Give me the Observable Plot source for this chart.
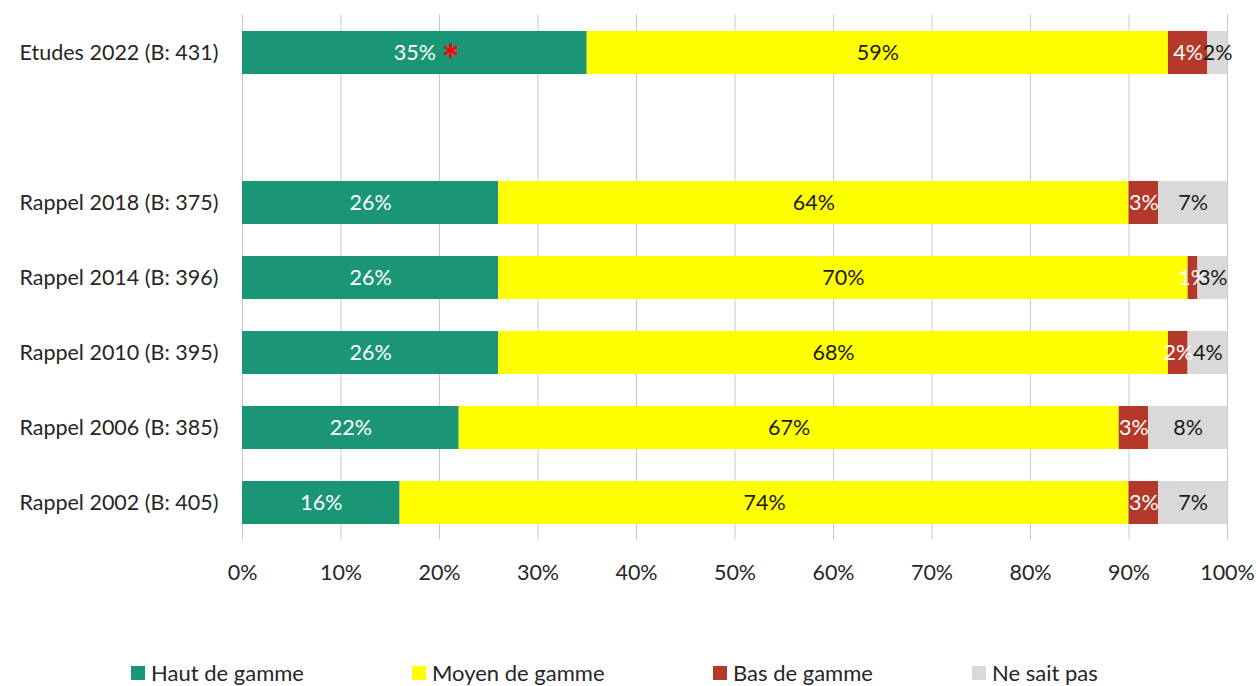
<!DOCTYPE html>
<html>
<head>
<meta charset="utf-8">
<script src="https://cdn.jsdelivr.net/npm/d3@7"></script>
<script src="https://cdn.jsdelivr.net/npm/@observablehq/plot@0.6"></script>
<style>
  body { margin: 0; background: #fff; font-family: Lato, "Noto Sans", sans-serif; }
  #wrap { position: relative; width: 1256px; height: 686px; }
  .legend { position: absolute; top: 659px; display: flex; align-items: center; font-size: 22px; color: #262626; }
  .legend .sw { width: 14px; height: 14px; margin-right: 6px; }
</style>
</head>
<body>
<div id="wrap"></div>
<script>
const categories = ["Etudes 2022 (B: 431)", "", "Rappel 2018 (B: 375)", "Rappel 2014 (B: 396)", "Rappel 2010 (B: 395)", "Rappel 2006 (B: 385)", "Rappel 2002 (B: 405)"];
const series = ["Haut de gamme", "Moyen de gamme", "Bas de gamme", "Ne sait pas"];
const colors = ["#1a9677", "#ffff00", "#b5392a", "#d9d9d9"];
const labelColors = ["#ffffff", "#1a1a1a", "#ffffff", "#1a1a1a"];
const rows = ["Etudes 2022 (B: 431)", "Rappel 2018 (B: 375)", "Rappel 2014 (B: 396)", "Rappel 2010 (B: 395)", "Rappel 2006 (B: 385)", "Rappel 2002 (B: 405)"];
const haut  = [35, 26, 26, 26, 22, 16];
const moyen = [59, 64, 70, 68, 67, 74];
const bas   = [4, 3, 1, 2, 3, 3];
const nsp   = [2, 7, 3, 4, 8, 7];
const xTicks = [0, 10, 20, 30, 40, 50, 60, 70, 80, 90, 100];
const starRow = "Etudes 2022 (B: 431)";

const values = [haut, moyen, bas, nsp];
const data = [];
rows.forEach((r, i) => series.forEach((s, j) => data.push({cat: r, series: s, value: values[j][i], si: j})));
const stars = data.filter(d => d.cat === starRow && d.si === 0).map(d => ({cat: d.cat, x: d.value / 2}));

const plot = Plot.plot({
  width: 1256,
  height: 600,
  marginLeft: 242,
  marginRight: 29,
  marginTop: 14.5,
  marginBottom: 60.5,
  style: {fontFamily: "Lato, 'Noto Sans', sans-serif", fontSize: "21.5px", color: "#262626", background: "#fff"},
  x: {domain: [0, 100], ticks: xTicks, tickFormat: d => d + "%", tickSize: 0, tickPadding: 25, label: null},
  y: {domain: categories, paddingInner: 0.43, paddingOuter: 0.215, tickSize: 0, tickPadding: 24, label: null},
  color: {domain: series, range: colors},
  marks: [
    Plot.gridX(xTicks, {stroke: "#c8c8c8", strokeOpacity: 1, strokeWidth: 1}),
    Plot.barX(data, Plot.stackX({x: "value", y: "cat", fill: "series", order: series})),
    Plot.text(data, Plot.stackX({x: "value", y: "cat", z: "series", order: series,
      text: d => d.value + "%", fill: d => labelColors[d.si], fontSize: 21.5})),
    Plot.text(stars, {x: "x", y: "cat", text: () => "*", fill: "#ff0000", fontSize: 44, fontWeight: "bold", dx: 36, dy: 9})
  ]
});
const wrap = document.getElementById("wrap");
wrap.appendChild(plot);
const legendX = [131, 412, 713, 972];
series.forEach((s, j) => {
  const d = document.createElement("div");
  d.className = "legend";
  d.style.left = legendX[j] + "px";
  d.innerHTML = `<span class="sw" style="background:${colors[j]}"></span><span>${s}</span>`;
  wrap.appendChild(d);
});
</script>
</body>
</html>
